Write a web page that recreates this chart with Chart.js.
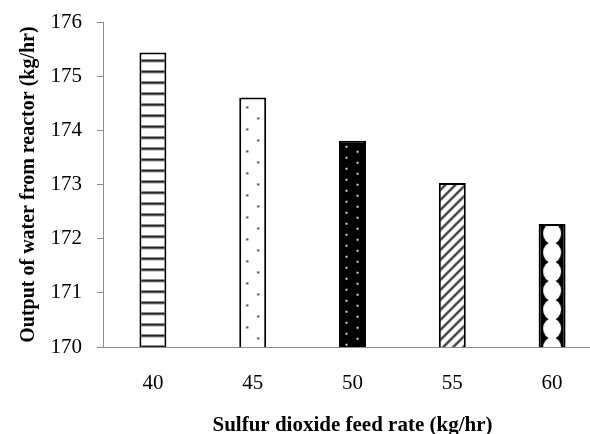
<!DOCTYPE html>
<html>
<head>
<meta charset="utf-8">
<script src="https://cdn.jsdelivr.net/npm/chart.js@4"></script>
<style>
    html, body { margin: 0; padding: 0; background: #fff; overflow: hidden; }
    #wrap { width: 602px; height: 438px; position: relative; }
</style>
</head>
<body>
<div id="wrap"><canvas id="waterChart"></canvas></div>
<script>
// Données
const feedRates = ['40', '45', '50', '55', '60'];
const waterOutput = [175.44, 174.61, 173.81, 173.03, 172.27];
const yTicks = [170, 171, 172, 173, 174, 175, 176];

const FONT = "'Liberation Serif', 'Times New Roman', serif";

// Motifs de remplissage des barres
function makeTile(w, h, draw) {
    const c = document.createElement('canvas');
    c.width = w;
    c.height = h;
    const g = c.getContext('2d');
    draw(g, w, h);
    return { pattern: g.createPattern(c, 'repeat'), w: w, h: h };
}

const tiles = [
    // 40 : rayures horizontales
    makeTile(4, 11, (g, w) => {
        g.fillStyle = '#fff';
        g.fillRect(0, 0, w, 11);
        g.fillStyle = '#222';
        g.fillRect(0, 7, w, 2);
        g.fillStyle = '#999';
        g.fillRect(0, 9, w, 1);
    }),
    // 45 : points clairsemés
    makeTile(22, 22, (g) => {
        g.fillStyle = '#fff';
        g.fillRect(0, 0, 22, 22);
        g.fillStyle = '#333';
        g.fillRect(4.5, 9, 2, 2);
        g.fillRect(15.5, 20, 2, 2);
    }),
    // 50 : fond noir, points blancs
    makeTile(22, 11, (g) => {
        g.fillStyle = '#000';
        g.fillRect(0, 0, 22, 11);
        g.fillStyle = '#ddd';
        g.fillRect(4, 5, 2, 2);
        g.fillRect(15, 10, 2, 1);
        g.fillRect(15, 0, 2, 1);
    }),
    // 55 : diagonales montantes
    makeTile(10, 10, (g) => {
        g.fillStyle = '#fff';
        g.fillRect(0, 0, 10, 10);
        g.strokeStyle = '#444';
        g.lineWidth = 2.5;
        g.beginPath();
        g.moveTo(-2, 12); g.lineTo(12, -2);
        g.moveTo(-2, 2); g.lineTo(2, -2);
        g.moveTo(8, 12); g.lineTo(12, 8);
        g.stroke();
    }),
    // 60 : fond noir, losanges blancs arrondis
    makeTile(28, 19, (g) => {
        g.fillStyle = '#000';
        g.fillRect(0, 0, 28, 19);
        g.fillStyle = '#fff';
        g.beginPath();
        g.ellipse(14, 9.5, 9, 10.2, 0, 0, Math.PI * 2);
        g.fill();
    })
];

// Aligne chaque motif sur le centre de sa barre
const alignPatterns = {
    id: 'alignPatterns',
    beforeDatasetsDraw(chart) {
        const bars = chart.getDatasetMeta(0).data;
        bars.forEach((bar, i) => {
            const t = tiles[i];
            const tx = bar.x - t.w / 2;
            const ty = bar.y;
            t.pattern.setTransform(new DOMMatrix([1, 0, 0, 1, tx, ty]));
        });
    }
};

new Chart(document.getElementById('waterChart'), {
    type: 'bar',
    data: {
        labels: feedRates,
        datasets: [{
            data: waterOutput,
            backgroundColor: tiles.map(t => t.pattern),
            borderColor: '#000',
            borderWidth: 2,
            borderSkipped: false,
            barPercentage: 0.27,
            categoryPercentage: 1
        }]
    },
    options: {
        responsive: true,
        maintainAspectRatio: false,
        animation: false,
        layout: {
            padding: { left: 17, top: 0, right: 0, bottom: 0 }
        },
        plugins: {
            legend: { display: false },
            tooltip: { enabled: false }
        },
        scales: {
            x: {
                afterFit(scale) {
                    scale.height = 91;
                },
                grid: { display: false },
                border: { display: true, color: '#8c8c8c', width: 1 },
                ticks: {
                    color: '#000',
                    padding: 16,
                    font: { family: FONT, size: 21 }
                },
                title: {
                    display: true,
                    text: 'Sulfur dioxide feed rate (kg/hr)',
                    color: '#000',
                    font: { family: FONT, size: 21, weight: 'bold' },
                    padding: { top: 0, bottom: 0 }
                }
            },
            y: {
                min: 170,
                max: 176,
                afterBuildTicks(scale) {
                    scale.ticks = yTicks.map(v => ({ value: v }));
                },
                afterFit(scale) {
                    scale.width = 86;
                },
                grid: {
                    drawOnChartArea: false,
                    color: '#8c8c8c',
                    tickLength: 6
                },
                border: { display: true, color: '#8c8c8c', width: 1 },
                ticks: {
                    color: '#000',
                    padding: 15,
                    font: { family: FONT, size: 21, lineHeight: 0.68 }
                },
                title: {
                    display: true,
                    text: 'Output of water from reactor (kg/hr)',
                    color: '#000',
                    font: { family: FONT, size: 20, weight: 'bold' },
                    padding: { top: 0, bottom: 9 }
                }
            }
        }
    },
    plugins: [alignPatterns]
});
</script>
</body>
</html>
